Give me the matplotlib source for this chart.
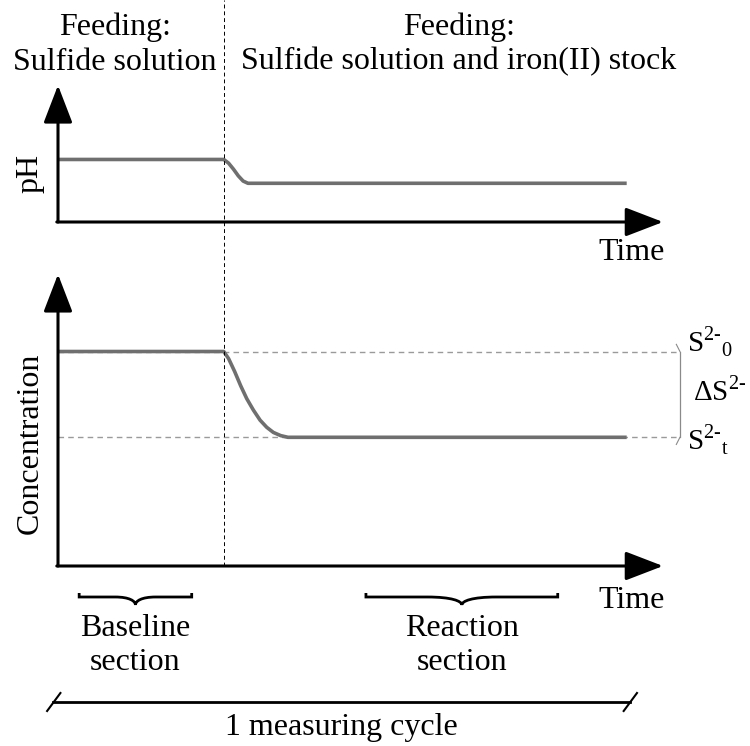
import numpy as np
import matplotlib.pyplot as plt
from matplotlib.path import Path
from matplotlib.patches import PathPatch
from matplotlib.transforms import blended_transform_factory

plt.rcParams['font.family'] = 'Liberation Serif'
plt.rcParams['mathtext.fontset'] = 'custom'
plt.rcParams['mathtext.rm'] = 'Liberation Serif'

# schematic data (arbitrary units, time 0..100)
t_switch = 27.4
t_ph = [0, 27.4, 28.2, 29.0, 29.8, 30.6, 31.4, 94]
ph = [4.2, 4.2, 3.95, 3.55, 3.1, 2.75, 2.6, 2.6]
t_conc = [0, 27.4, 28.2, 29.2, 30.2, 31.2, 32.3, 33.4, 34.5, 35.6, 36.8, 38.0, 94]
conc = [7.5, 7.5, 7.25, 6.8, 6.3, 5.85, 5.45, 5.1, 4.85, 4.67, 4.56, 4.5, 4.5]
s0, st = 7.5, 4.5
bracket_t = 102.8
baseline_sec = (3.5, 22.1)
reaction_sec = (50.9, 82.6)
cycle = (-0.8, 94.5)

W, H = 750, 746
fig = plt.figure(figsize=(7.5, 7.46), dpi=100)

# overlay in pixel coordinates for annotations
ov = fig.add_axes([0, 0, 1, 1], zorder=0)
ov.set_xlim(0, W)
ov.set_ylim(H, 0)
ov.axis('off')

ax1 = fig.add_axes([58 / W, (H - 222) / H, 605 / W, 134 / H], zorder=2)
ax2 = fig.add_axes([58 / W, (H - 566) / H, 605 / W, 286 / H], zorder=2)
ax1.set_xlim(0, 100); ax1.set_ylim(0, 9)
ax2.set_xlim(0, 100); ax2.set_ylim(0, 10)
for ax in (ax1, ax2):
    ax.axis('off')
    ax.patch.set_alpha(0)
    arr = dict(arrowstyle='-|>,head_length=1.3,head_width=0.5', lw=2.2,
               color='k', mutation_scale=18, shrinkA=0, shrinkB=0)
    ax.annotate('', xy=(0, 1.02), xytext=(0, 0), xycoords='axes fraction',
                arrowprops=arr, annotation_clip=False)
    ax.annotate('', xy=(1.0, 0), xytext=(-0.002, 0), xycoords='axes fraction',
                arrowprops=arr, annotation_clip=False)

# curves
ax1.plot(t_ph, ph, color='#6f6f6f', lw=2.6, solid_capstyle='butt', clip_on=False)
ax2.plot(t_conc, conc, color='#6f6f6f', lw=2.6, solid_capstyle='butt', clip_on=False)

# dashed reference lines
ax2.hlines([s0, st], 0, bracket_t, colors='#9a9a9a', lw=1, linestyles=(0, (4, 3)),
           clip_on=False, zorder=1)
ax2.plot([bracket_t, bracket_t], [s0, st], color='#8a8a8a', lw=0.9, clip_on=False)
ax2.plot([bracket_t - 0.6, bracket_t], [s0 + 0.25, s0], color='#8a8a8a', lw=0.8, clip_on=False)
ax2.plot([bracket_t - 0.6, bracket_t], [st - 0.25, st], color='#8a8a8a', lw=0.8, clip_on=False)

tr = blended_transform_factory(ax2.transData, fig.transFigure)
ax2.plot([t_switch, t_switch], [(H - 566) / H, 1.0], transform=tr, color='k',
         lw=0.7, ls=(0, (4, 3)), clip_on=False)

# labels
fs = 23
ov.text(115, 27, 'Feeding:', ha='center', va='center', fontsize=fs)
ov.text(115, 62, 'Sulfide solution', ha='center', va='center', fontsize=fs)
ov.text(459, 27, 'Feeding:', ha='center', va='center', fontsize=fs)
ov.text(459, 62, 'Sulfide solution and iron(II) stock', ha='center', va='center', fontsize=fs)
ov.text(30, 173, 'pH', ha='center', va='center', rotation=90, fontsize=fs)
ov.text(30, 443, 'Concentration', ha='center', va='center', rotation=90, fontsize=fs)
ov.text(632, 252, 'Time', ha='center', va='center', fontsize=fs)
ov.text(632, 601, 'Time', ha='center', va='center', fontsize=fs)
sfs = 21
ov.text(687, 342, r'$\mathrm{S}^{2\mathrm{‐}}{}_{0}$', ha='left', va='center', fontsize=sfs)
ov.text(693, 391, r'$\mathrm{\Delta S}^{2\mathrm{‐}}$', ha='left', va='center', fontsize=sfs)
ov.text(687, 440, r'$\mathrm{S}^{2\mathrm{‐}}{}_{\mathrm{t}}$', ha='left', va='center', fontsize=sfs)

# section braces
trb = blended_transform_factory(ax2.transData, ov.transData)


def brace(x0, x1, y, caps):
    xm = (x0 + x1) / 2
    w = (x1 - x0) * 0.18
    verts = [(x0, y - caps), (x0, y), (xm - w, y),
             (xm - w * 0.3, y), (xm, y + 4), (xm, y + 8),
             (xm, y + 4), (xm + w * 0.3, y), (xm + w, y),
             (x1, y), (x1, y - caps)]
    codes = [Path.MOVETO, Path.LINETO, Path.LINETO,
             Path.CURVE4, Path.CURVE4, Path.CURVE4,
             Path.CURVE4, Path.CURVE4, Path.CURVE4,
             Path.LINETO, Path.LINETO]
    return Path(verts, codes)


for (a, b), lab in [(baseline_sec, 'Baseline'), (reaction_sec, 'Reaction')]:
    p = brace(a, b, 597, 4)
    ax2.add_patch(PathPatch(p, transform=trb, fill=False, lw=2, ec='k', clip_on=False))
    ax2.text((a + b) / 2, 628, lab, transform=trb, ha='center', va='center', fontsize=fs)
    ax2.text((a + b) / 2, 662, 'section', transform=trb, ha='center', va='center', fontsize=fs)

# measuring cycle
ax2.plot(cycle, [702, 702], transform=trb, color='k', lw=2, clip_on=False)
for c in cycle:
    ax2.plot([c - 1.0, c + 1.2], [711, 693], transform=trb, color='k', lw=1.5, clip_on=False)
ax2.text(sum(cycle) / 2, 728, '1 measuring cycle', transform=trb, ha='center',
         va='center', fontsize=fs)

fig.savefig('out.png', dpi=100)
